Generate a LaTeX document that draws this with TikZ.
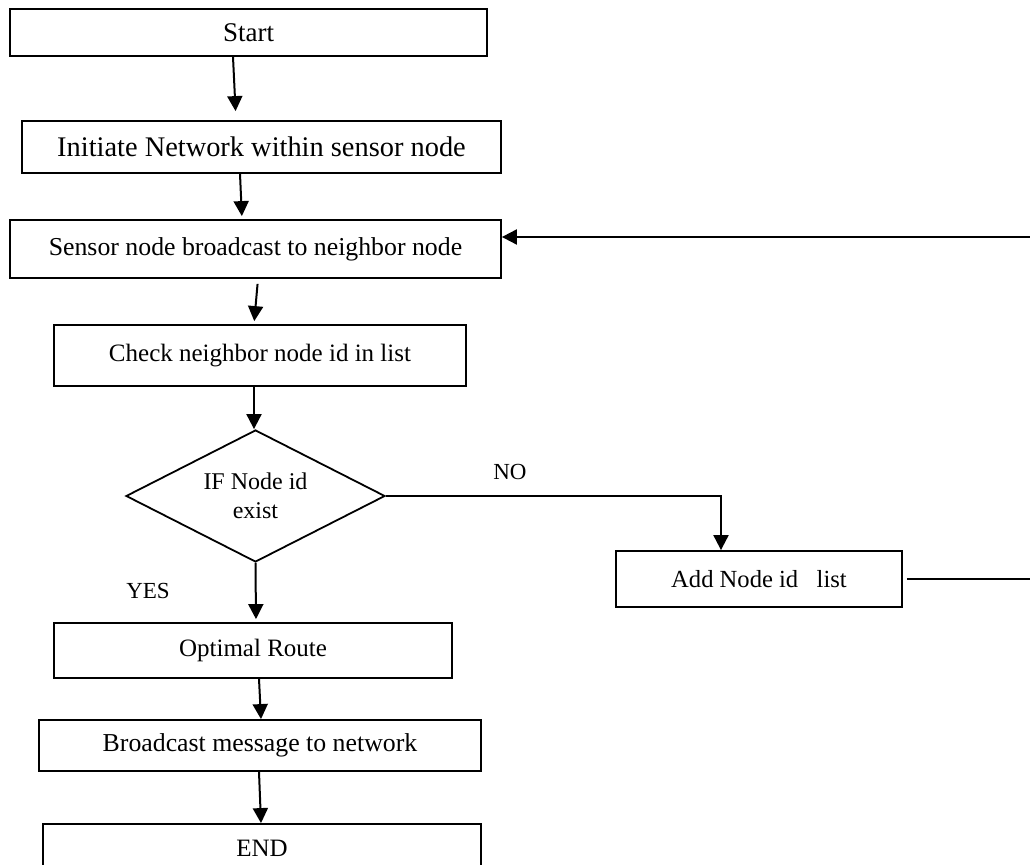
\documentclass[tikz,border=0pt]{standalone}
\usepackage{fontspec}
\setmainfont{Liberation Serif}
\usetikzlibrary{shapes.geometric,arrows.meta}
\tikzset{
    box/.style={draw,line width=0.9pt,inner sep=0pt,font=\fontsize{12.9}{14}\selectfont},
    arr/.style={line width=1pt,-{Triangle[length=7.5pt,width=7.5pt]}},
    lbl/.style={inner sep=0pt,font=\fontsize{11.5}{13}\selectfont}
}
\begin{document}
\begin{tikzpicture}[x=0.5pt,y=-0.5pt]
            \useasboundingbox (0,0) rectangle (1030,865);
            \node[box,minimum width=238.5pt,minimum height=23.5pt,font=\fontsize{13.5}{15}\selectfont] (start) at (248.5,32.5) {Start};
            \node[box,minimum width=239.5pt,minimum height=26pt,font=\fontsize{14.2}{16}\selectfont] (init) at (261.5,147) {Initiate Network within sensor node};
            \node[box,minimum width=245.5pt,minimum height=29pt] (sensor) at (255.5,249) {Sensor node broadcast to neighbor node};
            \node[box,minimum width=206pt,minimum height=30.5pt,font=\fontsize{12.5}{14}\selectfont] (check) at (260,355.5) {Check neighbor node id in list};
            \node[box,shape=diamond,aspect=2,minimum width=129.5pt,minimum height=66pt,align=center,font=\fontsize{12}{14.5}\selectfont] (cond) at (255.5,496) {IF Node id\\exist};
            \node[box,minimum width=143pt,minimum height=28pt,font=\fontsize{12.3}{14}\selectfont] (add) at (759,579) {Add Node id\ \ \ list};
            \node[box,minimum width=199pt,minimum height=27.5pt,font=\fontsize{12.5}{14}\selectfont] (route) at (253,650.5) {Optimal Route};
            \node[box,minimum width=221pt,minimum height=25.5pt] (bcast) at (260,745.5) {Broadcast message to network};
            \node[box,minimum width=219pt,minimum height=24pt,font=\fontsize{12.5}{14}\selectfont] (theend) at (262,848) {END};
            \node[lbl] (no) at (510,472) {NO};
            \node[lbl] (yes) at (148,591) {YES};
            \coordinate (loopbot) at (1036,579);
            \coordinate (looptop) at (1036,237);
            \draw[arr,shorten >=4.5pt] ([xshift=-7.75pt]start.south) -- ([xshift=-12.75pt]init.north);
            \draw[arr,shorten >=1.5pt] ([xshift=-10.75pt]init.south) -- ([xshift=-6.75pt]sensor.north);
            \draw[arr,shorten <=2.5pt,shorten >=1.5pt] ([xshift=1.25pt]sensor.south) -- ([xshift=-3pt]check.north);
            \draw[arr] ([xshift=-3pt]check.south) -- ([xshift=-0.75pt]cond.north);
            \draw[arr,shorten >=1.5pt] (cond.south) -- ([xshift=1.5pt]route.north);
            \draw[arr] ([xshift=3pt]route.south) -- ([xshift=0.5pt]bcast.north);
            \draw[arr] ([xshift=-0.5pt]bcast.south) -- ([xshift=-0.5pt]theend.north);
            \draw[arr] (cond.east) -| ([xshift=-19pt]add.north);
            \draw[arr,shorten <=2pt] (add.east) -- (loopbot) -- (looptop) -- ([yshift=6pt]sensor.east);
        \end{tikzpicture}
\end{document}
